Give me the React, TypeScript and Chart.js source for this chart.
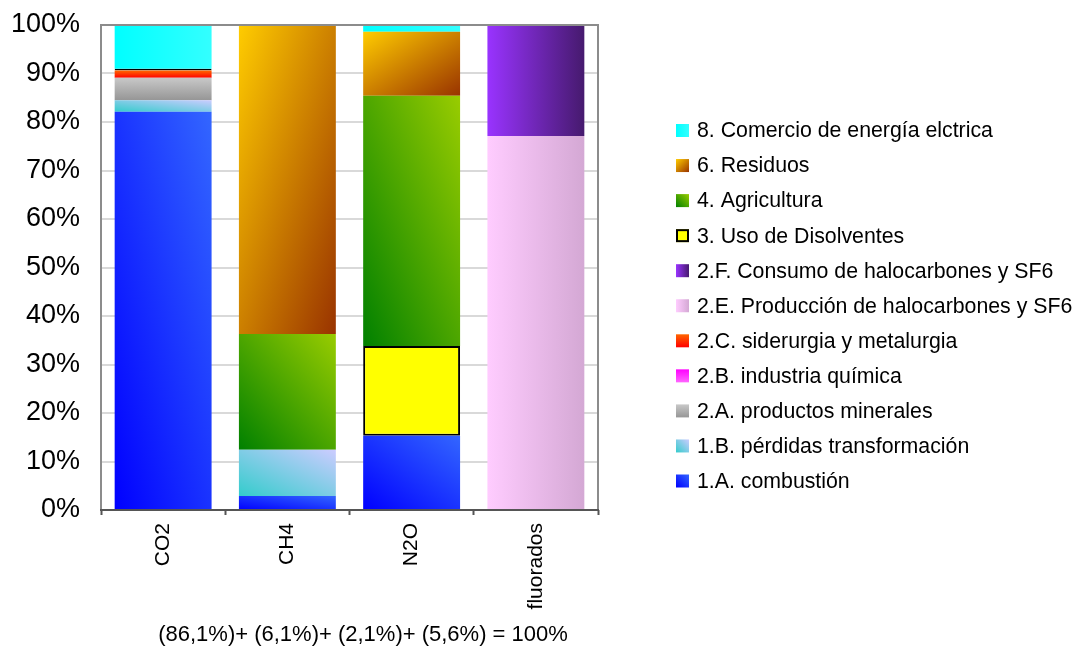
import React, { useEffect, useRef } from 'react';
import { Chart, registerables } from 'chart.js';

Chart.register(...registerables);

// Share of each gas by sector (%), one value per category
const categories = ['CO2', 'CH4', 'N2O', 'fluorados'];

const combustion = [82.1, 2.9, 15.3, 0];
const perdidasTransformacion = [2.4, 9.5, 0, 0];
const productosMinerales = [4.6, 0, 0, 0];
const industriaQuimica = [0, 0, 0, 0];
const siderurgia = [1.5, 0, 0, 0];
const produccionHalocarbonos = [0, 0, 0, 77.1];
const consumoHalocarbonos = [0, 0, 0, 22.9];
const disolventes = [0.4, 0, 18.5, 0];
const agricultura = [0, 23.9, 51.6, 0];
const residuos = [0, 63.7, 13.2, 0];
const comercioElectrico = [9.0, 0, 1.4, 0];

const seriesLabels = [
  '1.A. combustión',
  '1.B. pérdidas transformación',
  '2.A. productos minerales',
  '2.B. industria química',
  '2.C. siderurgia y metalurgia',
  '2.E. Producción de halocarbones y SF6',
  '2.F. Consumo de halocarbones y SF6',
  '3. Uso de Disolventes',
  '4. Agricultura',
  '6. Residuos',
  '8. Comercio de energía elctrica',
];

const yTicks = [0, 10, 20, 30, 40, 50, 60, 70, 80, 90, 100];

const footnote = '(86,1%)+ (6,1%)+ (2,1%)+ (5,6%) = 100%';

// Fill styles: 'up' = bottom-left -> top-right, 'down' = top-left -> bottom-right,
// 'h' = left -> right, 'v' = top -> bottom
type Fill = { kind: 'up' | 'down' | 'h' | 'v'; from: string; to: string; border?: string };

const fills: Fill[] = [
  { kind: 'up', from: '#0000FF', to: '#3366FF' },
  { kind: 'up', from: '#33CCCC', to: '#CCCCFF' },
  { kind: 'v', from: '#C8C8C8', to: '#969696' },
  { kind: 'v', from: '#FF00FF', to: '#FF66FF' },
  { kind: 'v', from: '#FF6600', to: '#FF0000' },
  { kind: 'h', from: '#FFCCFF', to: '#D4A8D4' },
  { kind: 'h', from: '#9933FF', to: '#461A6E' },
  { kind: 'h', from: '#FFFF00', to: '#FFFF00', border: '#000000' },
  { kind: 'up', from: '#008000', to: '#99CC00' },
  { kind: 'down', from: '#FFCC00', to: '#993300' },
  { kind: 'h', from: '#00FFFF', to: '#33FFFF' },
];

const BAR_PCT = 0.78;
const FONT = '"Liberation Sans", Arial, sans-serif';

function makeFill(g: CanvasRenderingContext2D, x: number, y: number, w: number, h: number, f: Fill) {
  if (![x, y, w, h].every((n) => Number.isFinite(n)) || w <= 0 || h <= 0) return f.from;
  let grad: CanvasGradient;
  if (f.kind === 'h') {
    grad = g.createLinearGradient(x, 0, x + w, 0);
  } else if (f.kind === 'v') {
    grad = g.createLinearGradient(0, y, 0, y + h);
  } else {
    const k = (2 * w * h) / (w * w + h * h);
    if (f.kind === 'up') {
      grad = g.createLinearGradient(x, y + h, x + k * h, y + h - k * w);
    } else {
      grad = g.createLinearGradient(x, y, x + k * h, y + k * w);
    }
  }
  grad.addColorStop(0, f.from);
  grad.addColorStop(1, f.to);
  return grad;
}

export default function App() {
  const ref = useRef<HTMLCanvasElement>(null);

  useEffect(() => {
    document.body.style.margin = '0';
    const canvas = ref.current;
    if (!canvas) return;

    const series = [
      combustion,
      perdidasTransformacion,
      productosMinerales,
      industriaQuimica,
      siderurgia,
      produccionHalocarbonos,
      consumoHalocarbonos,
      disolventes,
      agricultura,
      residuos,
      comercioElectrico,
    ];

    // Gradient for one bar segment, built from the scales' pixel positions
    const barFill = (di: number) => (c: any) => {
      const f = fills[di];
      if (c.type !== 'data') return f.from;
      const chart = c.chart;
      const xs = chart.scales && chart.scales.x;
      const ys = chart.scales && chart.scales.y;
      if (!xs || !ys || !xs.width) return f.from;
      const i = c.dataIndex;
      let base = 0;
      for (let k = 0; k < di; k++) base += series[k][i] || 0;
      const v = series[di][i] || 0;
      const cx = xs.getPixelForValue(i);
      const bw = (xs.width / categories.length) * BAR_PCT;
      const yTop = ys.getPixelForValue(base + v);
      const yBot = ys.getPixelForValue(base);
      return makeFill(chart.ctx, cx - bw / 2, yTop, bw, yBot - yTop, f);
    };

    const framePlugin = {
      id: 'frame',
      afterDatasetsDraw(chart: any) {
        const { ctx, chartArea: a } = chart;
        ctx.save();
        ctx.lineWidth = 2;
        ctx.strokeStyle = '#8c8c8c';
        ctx.beginPath();
        ctx.moveTo(a.left, a.bottom);
        ctx.lineTo(a.left, a.top);
        ctx.lineTo(a.right, a.top);
        ctx.lineTo(a.right, a.bottom);
        ctx.stroke();
        ctx.strokeStyle = '#555555';
        ctx.beginPath();
        ctx.moveTo(a.left - 1, a.bottom);
        ctx.lineTo(a.right + 1, a.bottom);
        ctx.stroke();
        ctx.restore();
      },
    };

    const legendPlugin = {
      id: 'sideLegend',
      afterDraw(chart: any) {
        const { ctx } = chart;
        const boxX = 676;
        const box = 13;
        const firstY = 130.5;
        const step = 35.05;
        ctx.save();
        ctx.font = `21.3px ${FONT}`;
        ctx.textBaseline = 'middle';
        ctx.textAlign = 'left';
        const ds = chart.data.datasets;
        for (let r = 0; r < ds.length; r++) {
          const di = ds.length - 1 - r;
          const f = fills[di];
          const cy = firstY + r * step;
          const top = cy - box / 2;
          ctx.fillStyle = makeFill(ctx, boxX, top, box, box, f);
          ctx.fillRect(boxX, top, box, box);
          if (f.border) {
            ctx.lineWidth = 2;
            ctx.strokeStyle = f.border;
            ctx.strokeRect(boxX + 1, top + 1, box - 2, box - 2);
          }
          ctx.fillStyle = '#000';
          ctx.fillText(ds[di].label, 697, cy + 1);
        }
        ctx.restore();
      },
    };

    const footnotePlugin = {
      id: 'footnote',
      afterDraw(chart: any) {
        const { ctx, chartArea: a } = chart;
        ctx.save();
        ctx.font = `22px ${FONT}`;
        ctx.fillStyle = '#000';
        ctx.textAlign = 'center';
        ctx.textBaseline = 'middle';
        ctx.fillText(footnote, (a.left + a.right) / 2 + 13.5, 635);
        ctx.restore();
      },
    };

    const chart = new Chart(canvas, {
      type: 'bar',
      data: {
        labels: categories,
        datasets: series.map((values, di) => ({
          label: seriesLabels[di],
          data: values,
          backgroundColor: barFill(di),
          borderColor: fills[di].border || 'rgba(0,0,0,0)',
          borderWidth: fills[di].border ? 2 : 0,
          borderSkipped: false,
          categoryPercentage: 1,
          barPercentage: BAR_PCT,
        })),
      },
      options: {
        responsive: false,
        maintainAspectRatio: false,
        animation: false,
        events: [],
        layout: { padding: { left: 0, top: 25, right: 482, bottom: 0 } },
        plugins: {
          legend: { display: false },
          tooltip: { enabled: false },
          title: { display: false },
        },
        scales: {
          x: {
            stacked: true,
            offset: true,
            grid: {
              offset: true,
              drawOnChartArea: false,
              drawTicks: true,
              tickLength: 5,
              tickColor: '#555555',
              tickWidth: 2,
            },
            border: { display: false },
            ticks: {
              autoSkip: false,
              minRotation: 90,
              maxRotation: 90,
              padding: 8,
              color: '#000',
              font: { family: FONT, size: 21 },
            },
            afterFit: (s: any) => {
              s.height = 136;
              s.paddingLeft = 0;
              s.paddingRight = 0;
            },
          },
          y: {
            stacked: true,
            min: 0,
            max: 100,
            afterBuildTicks: (s: any) => {
              s.ticks = yTicks.map((v) => ({ value: v }));
            },
            grid: { color: '#d9d9d9', lineWidth: 2, drawTicks: false },
            border: { display: false },
            ticks: {
              padding: 21,
              color: '#000',
              font: { family: FONT, size: 27 },
              callback: (v: any) => `${v}%`,
            },
            afterFit: (s: any) => {
              s.width = 101;
              s.paddingTop = 0;
              s.paddingBottom = 0;
            },
          },
        },
      },
      plugins: [framePlugin, legendPlugin, footnotePlugin],
    });

    return () => chart.destroy();
  }, []);

  return (
    <div style={{ width: 1080, height: 646 }}>
      <canvas ref={ref} width={1080} height={646} style={{ display: 'block' }} />
    </div>
  );
}
